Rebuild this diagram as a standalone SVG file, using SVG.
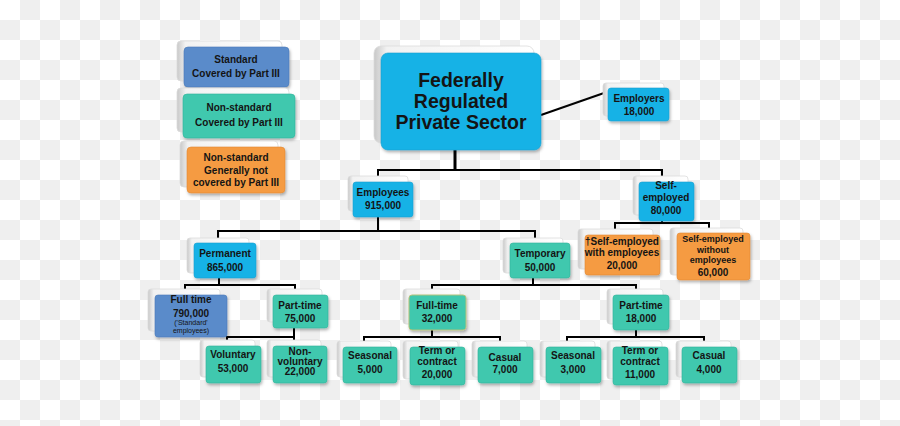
<svg xmlns="http://www.w3.org/2000/svg" width="900" height="426" viewBox="0 0 900 426">
<defs>
<pattern id="chk" width="40" height="40" patternUnits="userSpaceOnUse">
<rect width="40" height="40" fill="#ffffff"/>
<rect x="20" y="0" width="20" height="20" fill="#efefef"/>
<rect x="0" y="20" width="20" height="20" fill="#efefef"/>
</pattern>
<linearGradient id="cardg" x1="0" y1="0" x2="1" y2="0">
<stop offset="0" stop-color="#c8c8c8"/>
<stop offset="0.08" stop-color="#f2f2f2"/>
<stop offset="1" stop-color="#ffffff"/>
</linearGradient>
<filter id="sh" x="-20%" y="-20%" width="140%" height="150%">
<feDropShadow dx="1" dy="2" stdDeviation="1.5" flood-color="#000" flood-opacity="0.3"/>
</filter>
</defs>
<style>
.card{fill:url(#cardg);stroke:#dcdcdc;stroke-width:0.8}
.box{filter:url(#sh)}
.sky{fill:#19b2e6;stroke:#14a0d0;stroke-width:0.6}
.teal{fill:#3fc8ae;stroke:#34b39b;stroke-width:0.6}
.blue{fill:#5a8bca;stroke:#4a7ab8;stroke-width:0.6}
.orng{fill:#f59b42;stroke:#e08a35;stroke-width:0.6}
text{font-family:"Liberation Sans",Arial,sans-serif;font-weight:bold;font-size:10px;fill:#141414;text-anchor:middle}
.big{font-size:19.5px}
.sm{font-size:7px;font-weight:normal}
.s9{font-size:9px}
.conn{stroke:#000;stroke-width:2;fill:none}
</style>
<rect width="900" height="426" fill="url(#chk)"/>
<g id="connectors">
<path class="conn" d="M378 170H662M378 169V180M662 169V180" />
<path class="conn" d="M455 150V170" style="stroke-width:3"/>
<path class="conn" d="M541 115L604 93"/>
<path class="conn" d="M378 217V231M218 231H535M218 230V240M535 230V240"/>
<path class="conn" d="M662 220V223M615 223H709M615 222V231M709 222V231"/>
<path class="conn" d="M219 278V285M185 285H295M185 284V291M295 284V291"/>
<path class="conn" d="M533 278V285M432 285H636M432 284V291M636 284V291"/>
<path class="conn" d="M294 327V337M227 337H294M227 336V342M294 336V342"/>
<path class="conn" d="M432 330V337M364 337H500M364 336V342M500 336V342"/>
<path class="conn" d="M636 330V337M567 337H704M567 336V342M704 336V342"/>
</g>
<g id="legend-standard">
<rect class="card" x="177" y="41" width="105" height="40" rx="4"/>
<rect class="box blue" x="184" y="47" width="105" height="40" rx="4"/>
<text x="236" y="63">Standard</text>
<text x="236" y="77">Covered by Part III</text>
</g>
<g id="legend-nonstandard-covered">
<rect class="card" x="177" y="88" width="112" height="44" rx="4"/>
<rect class="box teal" x="183" y="94" width="112" height="44" rx="4"/>
<text x="239" y="111">Non-standard</text>
<text x="239" y="126">Covered by Part III</text>
</g>
<g id="legend-nonstandard-notcovered">
<rect class="card" x="180" y="141" width="98" height="46" rx="4"/>
<rect class="box orng" x="187" y="147" width="98" height="46" rx="4"/>
<text x="236" y="161">Non-standard</text>
<text x="236" y="174">Generally not</text>
<text x="236" y="186">covered by Part III</text>
</g>
<g id="fed">
<rect class="card" x="374" y="46" width="160" height="97" rx="7"/>
<rect class="box sky" x="381" y="53" width="160" height="97" rx="7"/>
<text class="big" x="461" y="87">Federally</text>
<text class="big" x="461" y="108">Regulated</text>
<text class="big" x="461" y="129">Private Sector</text>
</g>
<g id="employers">
<rect class="card" x="603" y="83" width="61" height="33" rx="3"/>
<rect class="box sky" x="608" y="88" width="61" height="33" rx="3"/>
<text x="639" y="102">Employers</text>
<text x="639" y="115">18,000</text>
</g>
<g id="employees">
<rect class="card" x="348" y="176" width="60" height="35" rx="3"/>
<rect class="box sky" x="353" y="182" width="60" height="35" rx="3"/>
<text x="383" y="196">Employees</text>
<text x="383" y="209">915,000</text>
</g>
<g id="self-employed">
<rect class="card" x="633" y="176" width="55" height="39" rx="3"/>
<rect class="box sky" x="639" y="182" width="55" height="39" rx="3"/>
<text x="666" y="189">Self-</text>
<text x="666" y="201">employed</text>
<text x="666" y="214">80,000</text>
</g>
<g id="permanent">
<rect class="card" x="187" y="238" width="62" height="35" rx="3"/>
<rect class="box sky" x="194" y="243" width="62" height="35" rx="3"/>
<text x="225" y="257">Permanent</text>
<text x="225" y="271">865,000</text>
</g>
<g id="temporary">
<rect class="card" x="503" y="238" width="60" height="35" rx="3"/>
<rect class="box teal" x="510" y="243" width="60" height="35" rx="3"/>
<text x="540" y="257">Temporary</text>
<text x="540" y="271">50,000</text>
</g>
<g id="se-with-employees">
<rect class="card" x="578" y="229" width="75" height="40" rx="3"/>
<rect class="box orng" x="585" y="235" width="75" height="40" rx="3"/>
<text x="622" y="245">†Self-employed</text>
<text x="622" y="255.5">with employees</text>
<text x="622" y="269">20,000</text>
</g>
<g id="se-without-employees">
<rect class="card" x="670" y="228" width="73" height="47" rx="3"/>
<rect class="box orng" x="677" y="233" width="73" height="47" rx="3"/>
<text class="s9" x="713" y="242">Self-employed</text>
<text class="s9" x="713" y="252.5">without</text>
<text class="s9" x="713" y="263">employees</text>
<text x="713" y="275.5">60,000</text>
</g>
<g id="perm-full-time">
<rect class="card" x="148" y="289" width="72" height="42" rx="3"/>
<rect class="box blue" x="155" y="295" width="72" height="42" rx="3"/>
<text x="191" y="303">Full time</text>
<text x="191" y="317">790,000</text>
<text class="sm" x="191" y="325">('Standard'</text>
<text class="sm" x="191" y="333">employees)</text>
</g>
<g id="perm-part-time">
<rect class="card" x="267" y="289" width="55" height="33" rx="3"/>
<rect class="box teal" x="273" y="295" width="55" height="33" rx="3"/>
<text x="300" y="309">Part-time</text>
<text x="300" y="322">75,000</text>
</g>
<g id="voluntary">
<rect class="card" x="200" y="340" width="55" height="37" rx="3"/>
<rect class="box teal" x="206" y="346" width="55" height="37" rx="3"/>
<text x="233" y="358">Voluntary</text>
<text x="233" y="372">53,000</text>
</g>
<g id="non-voluntary">
<rect class="card" x="267" y="340" width="54" height="37" rx="3"/>
<rect class="box teal" x="273" y="346" width="54" height="37" rx="3"/>
<text x="300" y="355">Non-</text>
<text x="300" y="365">voluntary</text>
<text x="300" y="375">22,000</text>
</g>
<g id="temp-full-time">
<rect class="card" x="403" y="289" width="57" height="35" rx="3"/>
<rect class="box teal" x="409" y="295" width="57" height="35" rx="3" style="stroke:#b5c27a;stroke-width:1"/>
<text x="437" y="309">Full-time</text>
<text x="437" y="322">32,000</text>
</g>
<g id="ft-seasonal">
<rect class="card" x="337" y="341" width="54" height="36" rx="3"/>
<rect class="box teal" x="343" y="347" width="54" height="36" rx="3"/>
<text x="370" y="359">Seasonal</text>
<text x="370" y="373">5,000</text>
</g>
<g id="ft-term">
<rect class="card" x="403" y="341" width="55" height="38" rx="3"/>
<rect class="box teal" x="410" y="347" width="55" height="38" rx="3"/>
<text x="437" y="354">Term or</text>
<text x="437" y="365">contract</text>
<text x="437" y="378">20,000</text>
</g>
<g id="ft-casual">
<rect class="card" x="472" y="341" width="55" height="36" rx="3"/>
<rect class="box teal" x="478" y="347" width="55" height="36" rx="3"/>
<text x="505" y="361">Casual</text>
<text x="505" y="373">7,000</text>
</g>
<g id="temp-part-time">
<rect class="card" x="607" y="289" width="56" height="35" rx="3"/>
<rect class="box teal" x="613" y="295" width="56" height="35" rx="3"/>
<text x="641" y="309">Part-time</text>
<text x="641" y="322">18,000</text>
</g>
<g id="pt-seasonal">
<rect class="card" x="540" y="341" width="55" height="36" rx="3"/>
<rect class="box teal" x="546" y="347" width="55" height="36" rx="3"/>
<text x="573" y="359">Seasonal</text>
<text x="573" y="373">3,000</text>
</g>
<g id="pt-term">
<rect class="card" x="607" y="341" width="55" height="38" rx="3"/>
<rect class="box teal" x="613" y="347" width="55" height="38" rx="3"/>
<text x="640" y="354">Term or</text>
<text x="640" y="365">contract</text>
<text x="640" y="378">11,000</text>
</g>
<g id="pt-casual">
<rect class="card" x="676" y="341" width="55" height="36" rx="3"/>
<rect class="box teal" x="682" y="347" width="55" height="36" rx="3"/>
<text x="709" y="359">Casual</text>
<text x="709" y="373">4,000</text>
</g>
</svg>
